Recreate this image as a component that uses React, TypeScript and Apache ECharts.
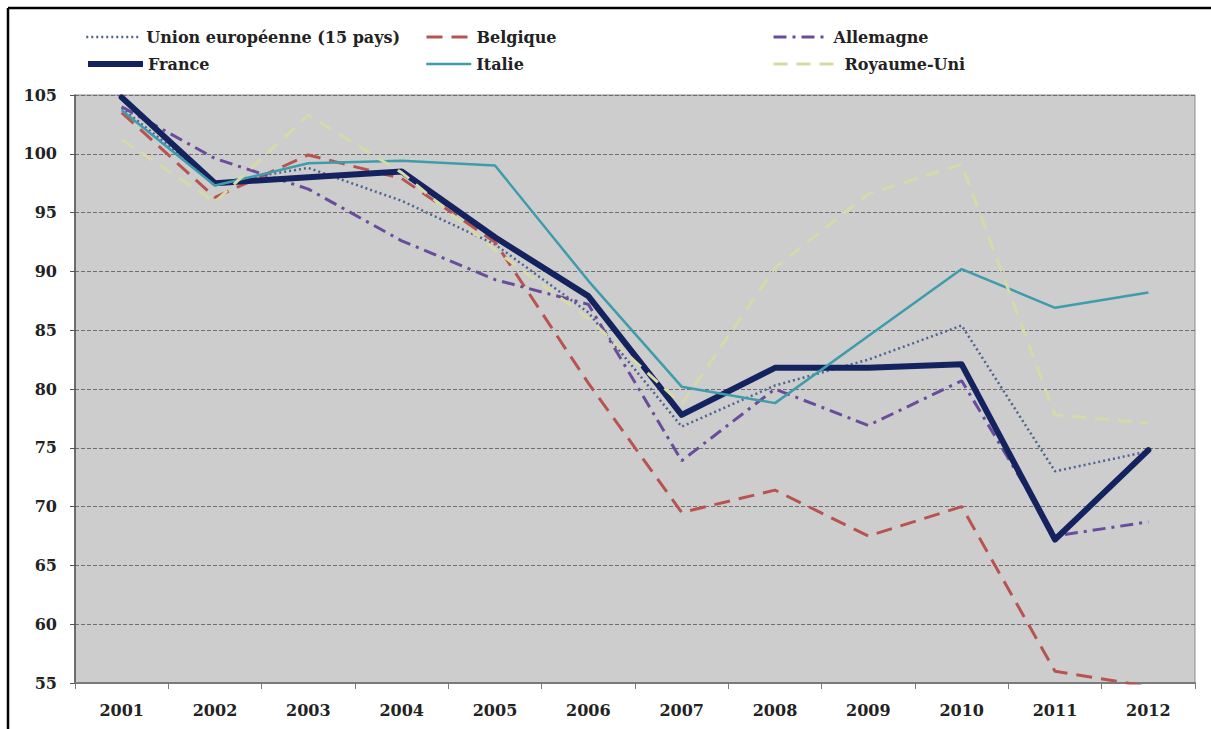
import React, { useEffect, useRef } from "react";
import * as echarts from "echarts";

const years = ["2001", "2002", "2003", "2004", "2005", "2006", "2007", "2008", "2009", "2010", "2011", "2012"];
const ue = [103.9, 97.5, 98.8, 96.0, 92.3, 86.5, 76.8, 80.3, 82.5, 85.4, 73.0, 74.7];
const belgique = [103.5, 96.3, 99.9, 97.9, 92.5, 80.5, 69.5, 71.4, 67.5, 70.0, 56.0, 54.7];
const allemagne = [104.0, 99.6, 97.0, 92.6, 89.3, 87.2, 73.9, 80.0, 76.9, 80.7, 67.5, 68.7];
const france = [104.8, 97.5, 98.0, 98.5, 92.9, 87.9, 77.8, 81.8, 81.8, 82.1, 67.2, 74.8];
const italie = [103.7, 97.3, 99.2, 99.4, 99.0, 89.2, 80.2, 78.8, 84.5, 90.2, 86.9, 88.2];
const royaumeUni = [101.2, 95.9, 103.3, 98.4, 91.8, 86.0, 78.7, 90.3, 96.6, 99.1, 77.8, 77.1];

const FONT = "DejaVu Serif";

export default function App() {
  const ref = useRef<HTMLDivElement>(null);
  useEffect(() => {
    if (!ref.current) return;
    const chart = echarts.init(ref.current, undefined, { renderer: "svg" });
    const textStyle = { fontFamily: FONT, fontWeight: "bold" as const, fontSize: 16, color: "#222" };
    const defs = [
      { name: "Union européenne (15 pays)", data: ue, color: "#4d6490", lineStyle: { width: 2.5, type: [2, 3] as any, cap: "butt" }, lg: [85, 29, 55] },
      { name: "Belgique", data: belgique, color: "#b85450", lineStyle: { width: 3, type: [16, 9] as any, cap: "butt" }, lg: [425, 29, 45] },
      { name: "Allemagne", data: allemagne, color: "#6a4c9c", lineStyle: { width: 3, type: [13, 6, 3, 6] as any, cap: "butt" }, lg: [772, 29, 55] },
      { name: "France", data: france, color: "#14235f", lineStyle: { width: 6, type: "solid", cap: "round", join: "round" }, lg: [85, 56, 55] },
      { name: "Italie", data: italie, color: "#3e9cab", lineStyle: { width: 2.5, type: "solid" }, lg: [425, 56, 45] },
      { name: "Royaume-Uni", data: royaumeUni, color: "#d6d9a8", lineStyle: { width: 3, type: [14, 9] as any, cap: "butt" }, lg: [772, 56, 66] },
    ];
    const legends = defs.map((d) => ({
      data: [d.name],
      left: d.lg[0],
      top: d.lg[1],
      orient: "horizontal",
      itemWidth: d.lg[2],
      itemHeight: 14,
      padding: 0,
      textStyle,
      selectedMode: false,
      itemStyle: { opacity: 0, borderWidth: 0 },
      lineStyle: { color: d.color, width: d.lineStyle.width, type: d.lineStyle.type, cap: "butt" },
    }));
    const series = defs.map((s) => ({
      type: "line",
      name: s.name,
      data: s.data,
      symbol: "none",
      showSymbol: false,
      itemStyle: { color: s.color },
      lineStyle: { ...s.lineStyle, color: s.color },
      clip: true,
      emphasis: { disabled: true },
    }));
    chart.setOption({
      animation: false,
      backgroundColor: "#ffffff",
      legend: legends,
      grid: {
        left: 75,
        right: 16,
        top: 95,
        bottom: 46,
        show: true,
        backgroundColor: "#cdcdcd",
        borderColor: "#8a8a8a",
        borderWidth: 1,
        containLabel: false,
        outerBoundsMode: "none",
      },
      xAxis: {
        type: "category",
        data: years,
        boundaryGap: true,
        axisLine: { show: true, lineStyle: { color: "#7a7a7a", width: 2 } },
        axisTick: { show: true, alignWithLabel: false, length: 6, lineStyle: { color: "#7a7a7a" } },
        axisLabel: { ...textStyle, margin: 19, interval: 0 },
        splitLine: { show: false },
      },
      yAxis: {
        type: "value",
        min: 55,
        max: 105,
        interval: 5,
        axisLine: { show: true, lineStyle: { color: "#555", width: 1.5 } },
        axisTick: { show: true, length: 5, lineStyle: { color: "#555" } },
        axisLabel: { ...textStyle, margin: 18 },
        splitLine: { show: true, lineStyle: { color: "#6e6e6e", width: 1, type: [4, 2] } },
      },
      graphic: [
        { type: "line", shape: { x1: 8, y1: 8, x2: 1211, y2: 8 }, style: { stroke: "#000", lineWidth: 2.5 } },
        { type: "line", shape: { x1: 8, y1: 8, x2: 8, y2: 729 }, style: { stroke: "#000", lineWidth: 2.5 } },
      ],
      series,
    });
    return () => chart.dispose();
  }, []);
  return (
    <div
      ref={ref}
      style={{ position: "fixed", left: 0, top: 0, width: 1211, height: 729 }}
    />
  );
}
